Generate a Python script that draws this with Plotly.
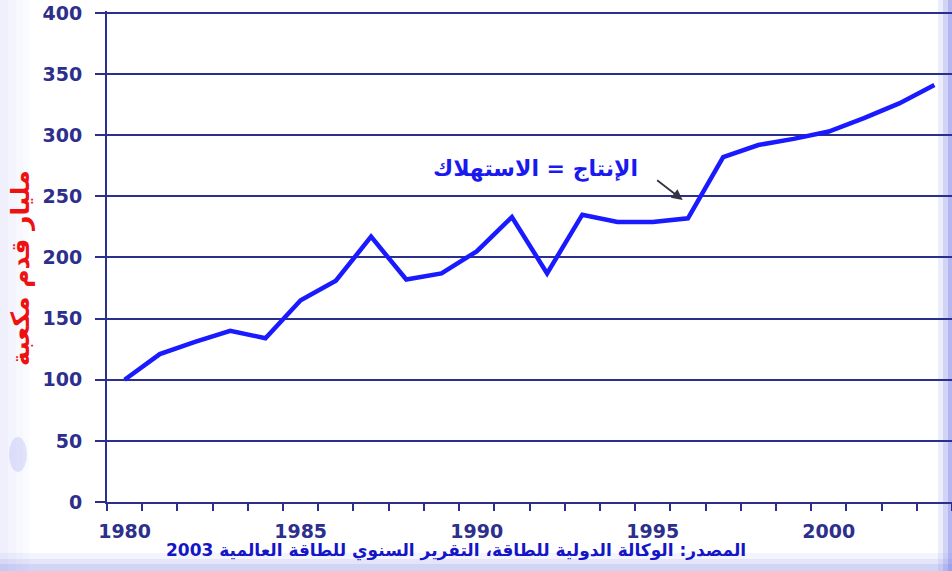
import plotly.graph_objects as go

years = list(range(1980, 2004))
values = [100, 121, 131, 140, 134, 165, 181, 217, 182, 187, 205, 233, 187, 235,
          229, 229, 232, 282, 292, 297, 303, 314, 326, 341]
x_ticks = [1980, 1985, 1990, 1995, 2000]
y_ticks = [0, 50, 100, 150, 200, 250, 300, 350, 400]
y_title = "مليار قدم مكعبة"
note_text = "الإنتاج = الاستهلاك"
source_text = "المصدر: الوكالة الدولية للطاقة، التقرير السنوي للطاقة العالمية 2003"

navy = "#2d2f8c"
line_blue = "#1a1aff"

fig = go.Figure()
fig.add_trace(go.Scatter(x=years, y=values, mode="lines",
                         line=dict(color=line_blue, width=4.5),
                         hoverinfo="skip", showlegend=False))

W, H = 952, 571
ml, mr, mt, mb = 107, 0, 11, 69
pw = W - ml - mr
ph = H - mt - mb

def px(xp):
    return (xp - ml) / pw

def py(yp):
    return (H - mb - yp) / ph

shapes = []
# left faint band
for a, b, op in [(0, 8, 0.10), (8, 16, 0.08), (16, 23, 0.05), (23, 29, 0.03)]:
    shapes.append(dict(type="rect", xref="paper", yref="paper",
                       x0=px(a), x1=px(b), y0=py(571), y1=py(0),
                       fillcolor="#6a70e0", opacity=op, line_width=0, layer="below"))
# blob on the left
shapes.append(dict(type="circle", xref="paper", yref="paper",
                   x0=px(9), x1=px(27), y0=py(472), y1=py(437),
                   fillcolor="#8a8ff0", opacity=0.22, line_width=0, layer="below"))
# bottom band
for a, b, op in [(553, 559, 0.08), (559, 564, 0.18), (564, 571, 0.30)]:
    shapes.append(dict(type="rect", xref="paper", yref="paper",
                       x0=px(0), x1=px(952), y0=py(b), y1=py(a),
                       fillcolor="#6a70e0", opacity=op, line_width=0, layer="below"))
# right band
for a, b, op in [(938, 943, 0.12), (943, 948, 0.3), (948, 952, 0.5)]:
    shapes.append(dict(type="rect", xref="paper", yref="paper",
                       x0=px(a), x1=px(b), y0=py(571), y1=py(0),
                       fillcolor="#6a70e0", opacity=op, line_width=0, layer="below"))

tickfont = dict(family="DejaVu Sans", size=19, color=navy, weight="bold")

fig.update_layout(
    width=W, height=H,
    margin=dict(l=ml, r=mr, t=mt, b=mb, pad=0),
    paper_bgcolor="white",
    plot_bgcolor="rgba(0,0,0,0)",
    showlegend=False,
    shapes=shapes,
    xaxis=dict(
        range=[1979.5, 2003.5],
        tickmode="array", tickvals=x_ticks, ticktext=[str(v) for v in x_ticks],
        ticks="", showgrid=False, zeroline=False,
        showline=True, linecolor=navy, linewidth=2,
        tickfont=tickfont,
        ticklabelstandoff=11,
        minor=dict(tickmode="array", tickvals=[1979.5 + i for i in range(25)],
                   ticks="outside", ticklen=7, tickwidth=2, tickcolor=navy,
                   showgrid=False),
    ),
    yaxis=dict(
        range=[0, 401.6],
        tickmode="array", tickvals=y_ticks,
        ticks="outside", ticklen=10, tickwidth=2, tickcolor=navy,
        showgrid=True, gridcolor=navy, gridwidth=2,
        zeroline=False,
        showline=True, linecolor=navy, linewidth=2,
        tickfont=tickfont,
        ticklabelstandoff=9,
        ticklabeloverflow="allow",
    ),
    annotations=[
        dict(text="<b>" + y_title + "</b>", xref="paper", yref="paper", x=px(20), y=py(268),
             showarrow=False, textangle=-90,
             font=dict(family="DejaVu Sans", size=25, color="#ee1111"),
             xanchor="center", yanchor="middle"),
        dict(text="<b>" + note_text + "</b>", xref="paper", yref="paper",
             x=px(535), y=py(169), showarrow=False,
             font=dict(family="DejaVu Sans", size=22, color="#1a1aee"),
             xanchor="center", yanchor="middle"),
        dict(text="", x=1995.85, y=247, xref="x", yref="y",
             showarrow=True, ax=-27, ay=-21, axref="pixel", ayref="pixel",
             arrowhead=2, arrowsize=1.2, arrowwidth=1.8, arrowcolor="#333344"),
        dict(text="<b>" + source_text + "</b>", xref="paper", yref="paper",
             x=px(456), y=py(550), showarrow=False,
             font=dict(family="DejaVu Sans", size=17, color="#1515c8"),
             xanchor="center", yanchor="middle"),
    ],
)

fig.write_html("out.html",
               config={"displayModeBar": False},
               post_script="document.body.style.margin='0';document.body.style.padding='0';")
